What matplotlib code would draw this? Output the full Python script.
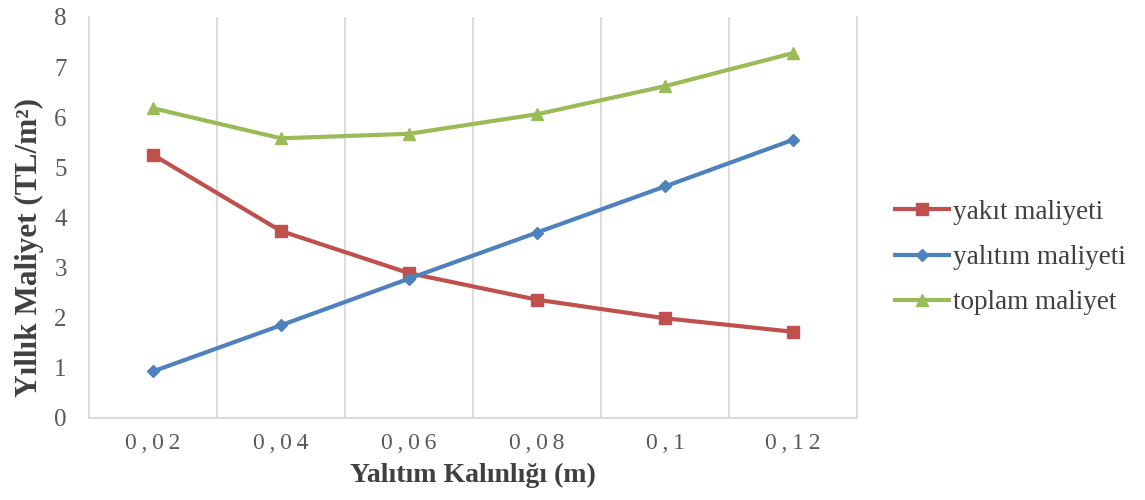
import numpy as np
import matplotlib.pyplot as plt

# Insulation thickness (m) and annual costs (TL/m2)
thickness = ["0,02", "0,04", "0,06", "0,08", "0,1", "0,12"]
fuel_cost = [5.25, 3.73, 2.89, 2.36, 1.99, 1.72]
insulation_cost = [0.93, 1.85, 2.78, 3.70, 4.62, 5.55]
total_cost = [6.18, 5.58, 5.67, 6.06, 6.62, 7.28]

plt.rcParams['font.family'] = ['Liberation Serif', 'DejaVu Serif']

fig = plt.figure(figsize=(11.45, 5.0), dpi=100)
ax = fig.add_axes([89 / 1145, 82 / 500, 768 / 1145, 401 / 500])

x = np.arange(len(thickness))
ax.plot(x, fuel_cost, color='#C0504D', lw=3, marker='s', ms=8, label='yakıt maliyeti', zorder=3)
ax.plot(x, insulation_cost, color='#4F81BD', lw=3, marker='D', ms=6, label='yalıtım maliyeti', zorder=3)
ax.plot(x, total_cost, color='#9BBB59', lw=3, marker='^', ms=8, label='toplam maliyet', zorder=3)

ax.set_xlim(-0.5, len(thickness) - 0.5)
ax.set_ylim(0, 8)
ax.set_xticks(x)
ax.set_xticklabels(["\u2009".join(t) for t in thickness], fontsize=17, color='#595959')
ax.set_yticks(range(0, 9))
ax.tick_params(axis='y', labelsize=18, labelcolor='#595959', length=0, pad=16)
ax.tick_params(axis='x', length=0, pad=11)

# vertical gridlines between categories
ax.set_xticks(np.arange(0.5, len(thickness) - 0.5, 1), minor=True)
ax.tick_params(axis='x', which='minor', length=0)
ax.grid(True, which='minor', axis='x', color='#D9D9D9', lw=1.3)

for side in ['left', 'right', 'bottom', 'top']:
    ax.spines[side].set_color('#D9D9D9')
    ax.spines[side].set_linewidth(1.3)
ax.spines['top'].set_visible(False)

ax.set_xlabel("Yalıtım Kalınlığı (m)", fontsize=20, fontweight='bold', color='#404040', labelpad=6)
ax.set_ylabel("Yıllık Maliyet (TL/m²)", fontsize=22.5, fontweight='bold', color='#404040')
ax.yaxis.set_label_coords(-0.059, 0.425)

ax.legend(loc='center left', bbox_to_anchor=(1.018, 0.40), frameon=False, fontsize=19.5,
          handlelength=2.0, handletextpad=0.15, labelspacing=0.75, labelcolor='#404040')

fig.savefig('out.png', dpi=100)
